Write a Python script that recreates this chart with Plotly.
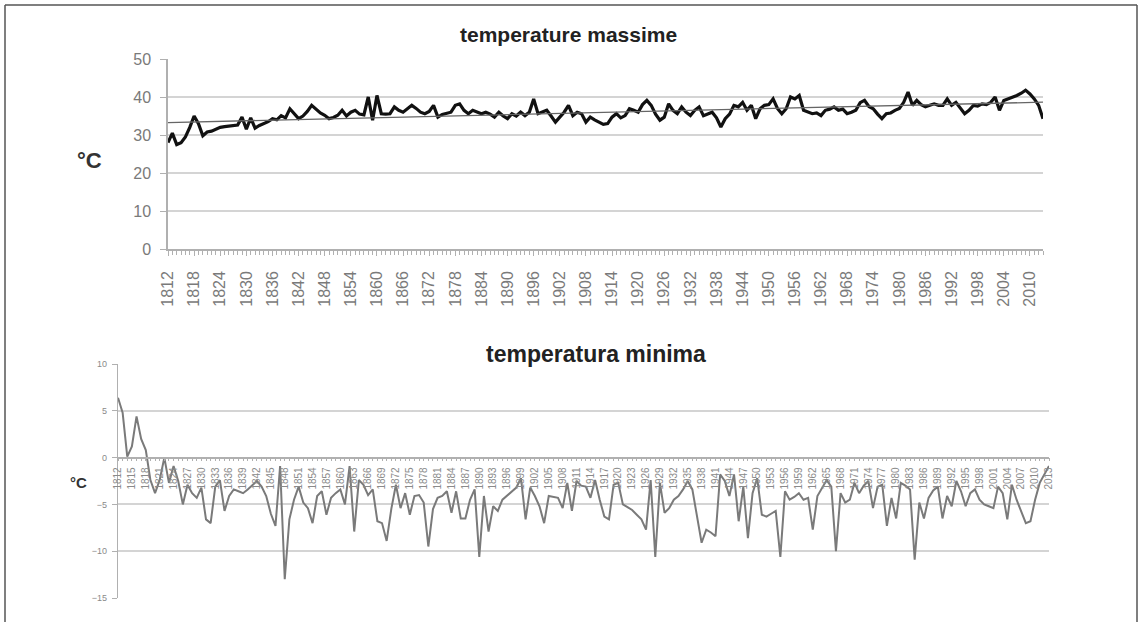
import numpy as np
import plotly.graph_objects as go

years = list(range(1812, 2014))

t_max = [
    28.0, 30.5, 27.5, 28.0, 29.5, 32.0, 35.0, 33.0, 29.8, 30.8,
    31.0, 31.5, 32.0, 32.2, 32.3, 32.5, 32.6, 34.7, 31.5, 34.5,
    31.8, 32.5, 33.0, 33.5, 34.3, 34.0, 35.1, 34.5, 36.9, 35.5,
    34.3, 35.0, 36.2, 37.8, 36.8, 35.8, 35.2, 34.3, 34.6, 35.2,
    36.5, 35.0, 36.0, 36.5, 35.5, 35.3, 40.0, 33.9, 40.4, 35.6,
    35.5, 35.6, 37.4, 36.5, 36.0, 37.0, 37.8, 37.0, 36.0, 35.6,
    36.2, 37.8, 34.7, 35.4, 35.6, 36.0, 37.8, 38.2, 36.5, 35.6,
    36.5, 36.0, 35.6, 36.0, 35.5, 34.7, 36.0, 35.0, 34.3, 35.6,
    35.0, 36.0, 35.1, 36.0, 39.5, 35.6, 36.0, 36.5, 35.0, 33.4,
    34.7, 36.0, 37.8, 35.1, 36.0, 35.6, 33.4, 34.7, 34.0, 33.4,
    32.8, 33.0, 34.7, 35.6, 34.5, 35.1, 36.9, 36.5, 36.0, 38.0,
    39.1, 37.8, 35.5, 33.9, 34.7, 38.2, 36.5, 35.6, 37.4, 36.0,
    35.1, 36.5, 37.4, 35.1, 35.5, 36.0, 34.5, 32.1, 34.3, 35.5,
    37.8, 37.4, 38.6, 36.5, 37.8, 34.3, 36.9, 37.8, 38.0, 39.5,
    37.0, 35.6, 36.9, 40.0, 39.5, 40.4, 36.5, 36.0, 35.6, 35.8,
    35.1, 36.5, 36.8, 37.4, 36.5, 36.8, 35.6, 36.0, 36.5, 38.5,
    39.1, 37.5, 36.9, 35.5, 34.3, 35.6, 35.8, 36.5, 37.0, 38.6,
    41.3, 37.8, 39.1, 38.0, 37.4, 37.8, 38.2, 37.8, 37.8, 39.5,
    37.8, 38.6, 37.0, 35.6, 36.5, 37.8, 37.6, 38.2, 38.0, 38.6,
    40.0, 36.5, 39.1, 39.5, 40.0, 40.4, 41.0, 41.8, 40.8, 39.5,
    37.8, 34.3,
]

t_min = [
    6.4, 4.8, 0.1, 1.2, 4.4, 2.0, 0.8, -2.4, -3.8, -2.4,
    0.0, -2.7, -0.9, -2.5, -5.0, -2.9, -3.8, -4.3, -3.2, -6.6,
    -7.0, -3.1, -2.4, -5.7, -4.1, -3.4, -3.6, -3.8, -3.4, -3.0,
    -2.5, -3.1, -4.1, -6.0, -7.3, -0.9, -13.0, -6.6, -4.5, -3.1,
    -4.8, -5.4, -7.0, -4.1, -3.6, -6.1, -4.3, -3.8, -3.4, -5.0,
    -0.9, -7.9, -2.4, -2.9, -4.0, -3.4, -6.8, -7.0, -8.9, -5.5,
    -2.9, -5.4, -3.8, -6.1, -4.1, -4.0, -4.8, -9.5, -5.5, -4.3,
    -4.1, -3.6, -5.9, -3.6, -6.5, -6.5, -4.5, -3.4, -10.6, -4.1,
    -7.9, -5.2, -5.7, -4.5, -4.1, -3.6, -3.2, -2.2, -6.6, -3.2,
    -4.1, -5.2, -7.0, -4.1, -4.2, -4.3, -5.4, -2.7, -5.7, -2.5,
    -3.0, -3.1, -4.3, -2.4, -4.5, -6.3, -6.6, -2.9, -2.7, -5.0,
    -5.3, -5.6, -6.1, -6.6, -7.7, -2.4, -10.6, -2.7, -5.9, -5.4,
    -4.5, -4.1, -3.4, -2.5, -3.4, -6.5, -9.1, -7.7, -8.0, -8.4,
    -1.8, -2.5, -4.1, -1.8, -6.8, -3.1, -8.6, -3.8, -2.2, -6.1,
    -6.3, -6.0, -5.7, -10.6, -3.6, -4.5, -4.2, -3.8, -4.5, -4.3,
    -7.7, -4.1, -3.2, -2.4, -3.1, -10.0, -3.8, -4.8, -4.5, -2.7,
    -3.8, -3.0, -2.5, -5.4, -3.1, -2.9, -7.3, -4.3, -6.5, -2.7,
    -3.0, -3.4, -10.9, -4.8, -6.5, -4.3, -3.5, -3.1, -6.5, -4.1,
    -5.2, -2.5, -3.6, -5.2, -3.8, -3.4, -4.5, -5.0, -5.2, -5.4,
    -3.1, -3.8, -6.6, -2.9, -4.5, -5.8, -7.0, -6.8, -4.5, -2.7,
    -1.8, -0.9,
]

title_top = "temperature massime"
title_bottom = "temperatura minima"
unit = "°C"

W, H = 1140, 622
def px(x): return x / W
def py(y): return 1 - y / H

# linear trendline of the maxima (as in the spreadsheet)
coef = np.polyfit(years, t_max, 1)
trend = np.polyval(coef, [years[0], years[-1]])

top_dom_y = [py(249), py(59)]
bot_dom_y = [py(598), py(364)]
bot_range = [-15, 10]
zero_pos = bot_dom_y[0] + (0 - bot_range[0]) / (bot_range[1] - bot_range[0]) * (bot_dom_y[1] - bot_dom_y[0])

FONT = "Liberation Sans, Arial, sans-serif"
GRID = "#d4d4d4"
AX = "#b0b0b0"

fig = go.Figure()
fig.add_trace(go.Scatter(x=years, y=t_max, mode="lines", line=dict(color="#111111", width=3.2),
                         xaxis="x", yaxis="y", showlegend=False, hoverinfo="x+y"))
fig.add_trace(go.Scatter(x=[years[0], years[-1]], y=list(trend), mode="lines",
                         line=dict(color="#666666", width=1.3), xaxis="x", yaxis="y", showlegend=False))
fig.add_trace(go.Scatter(x=years, y=t_min, mode="lines", line=dict(color="#7a7a7a", width=2),
                         xaxis="x2", yaxis="y2", showlegend=False))

fig.update_layout(
    template="none",
    width=W, height=H, autosize=False,
    margin=dict(l=0, r=0, t=0, b=0),
    paper_bgcolor="white", plot_bgcolor="white",
    font=dict(family=FONT, color="#777777"),
    xaxis=dict(domain=[px(168), px(1043)], range=[years[0], years[-1]], anchor="y",
               tick0=1812, dtick=6, tickangle=-90, ticks="outside", ticklen=5, tickcolor=AX,
               minor=dict(dtick=1, ticks="outside", ticklen=4, tickcolor=AX),
               showline=True, linecolor=AX, linewidth=1.5, showgrid=False, zeroline=False,
               tickfont=dict(size=16, color="#7a7a7a"), ticklabelstandoff=9, automargin=False),
    yaxis=dict(domain=top_dom_y, range=[0, 50], dtick=10, anchor="x",
               showgrid=True, gridcolor=GRID, gridwidth=1.5, zeroline=False,
               showline=True, linecolor=AX, linewidth=1.5, ticks="outside", ticklen=6, tickcolor=AX,
               tickfont=dict(size=16, color="#7a7a7a"), ticklabelstandoff=6, automargin=False),
    xaxis2=dict(domain=[px(118), px(1049)], range=[years[0], years[-1]], anchor="free", position=zero_pos,
                tick0=1812, dtick=3, tickangle=-90, ticks="outside", ticklen=3, tickcolor=AX,
                minor=dict(dtick=1, ticks="outside", ticklen=3, tickcolor=AX),
                showline=True, linecolor=AX, linewidth=1.5, showgrid=False, zeroline=False,
                tickfont=dict(size=10, color="#8a8a8a"), ticklabelstandoff=2, automargin=False),
    yaxis2=dict(domain=bot_dom_y, range=bot_range, dtick=5, anchor="x2",
                showgrid=True, gridcolor=GRID, gridwidth=1.5, zeroline=False,
                showline=True, linecolor=AX, linewidth=1.2, ticks="outside", ticklen=5, tickcolor=AX,
                tickfont=dict(size=9, color="#8a8a8a"), ticklabelstandoff=3, automargin=False),
    annotations=[
        dict(text=f"<b>{title_top}</b>", x=px(568), y=py(34), xref="paper", yref="paper",
             showarrow=False, font=dict(size=21, color="#222222", family=FONT), xanchor="center", yanchor="middle"),
        dict(text=f"<b>{title_bottom}</b>", x=px(596), y=py(354), xref="paper", yref="paper",
             showarrow=False, font=dict(size=23, color="#222222", family=FONT), xanchor="center", yanchor="middle"),
        dict(text=f"<b>{unit}</b>", x=px(89), y=py(161), xref="paper", yref="paper",
             showarrow=False, font=dict(size=22, color="#333333", family=FONT), xanchor="center", yanchor="middle"),
        dict(text=f"<b>{unit}</b>", x=px(79), y=py(482), xref="paper", yref="paper",
             showarrow=False, font=dict(size=15, color="#333333", family=FONT), xanchor="center", yanchor="middle"),
    ],
    shapes=[
        dict(type="line", xref="paper", yref="paper", x0=px(5), x1=px(1137), y0=py(5), y1=py(5),
             line=dict(color="#555555", width=1.5)),
        dict(type="line", xref="paper", yref="paper", x0=px(5), x1=px(5), y0=py(5), y1=py(622),
             line=dict(color="#555555", width=1.5)),
        dict(type="line", xref="paper", yref="paper", x0=px(1137), x1=px(1137), y0=py(5), y1=py(622),
             line=dict(color="#555555", width=1.5)),
    ],
)

fig.write_html("out.html")
